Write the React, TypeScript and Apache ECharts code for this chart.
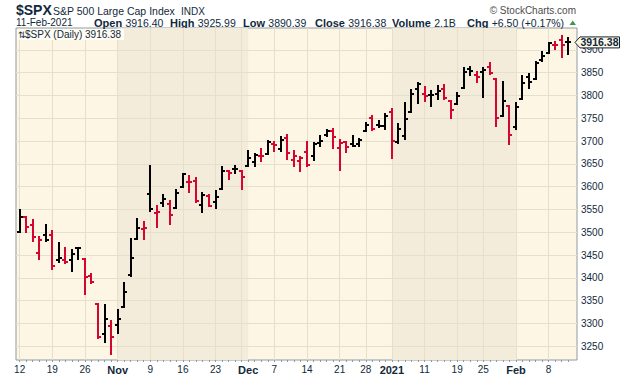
import React, { useEffect, useRef } from "react";
import * as echarts from "echarts";

// ---------- data ----------
const dates = [
  "2020-10-12","2020-10-13","2020-10-14","2020-10-15","2020-10-16","2020-10-19","2020-10-20","2020-10-21","2020-10-22","2020-10-23","2020-10-26","2020-10-27","2020-10-28","2020-10-29","2020-10-30",
  "2020-11-02","2020-11-03","2020-11-04","2020-11-05","2020-11-06","2020-11-09","2020-11-10","2020-11-11","2020-11-12","2020-11-13","2020-11-16","2020-11-17","2020-11-18","2020-11-19","2020-11-20","2020-11-23","2020-11-24","2020-11-25","2020-11-27","2020-11-30",
  "2020-12-01","2020-12-02","2020-12-03","2020-12-04","2020-12-07","2020-12-08","2020-12-09","2020-12-10","2020-12-11","2020-12-14","2020-12-15","2020-12-16","2020-12-17","2020-12-18","2020-12-21","2020-12-22","2020-12-23","2020-12-24","2020-12-28","2020-12-29","2020-12-30","2020-12-31",
  "2021-01-04","2021-01-05","2021-01-06","2021-01-07","2021-01-08","2021-01-11","2021-01-12","2021-01-13","2021-01-14","2021-01-15","2021-01-19","2021-01-20","2021-01-21","2021-01-22","2021-01-25","2021-01-26","2021-01-27","2021-01-28","2021-01-29",
  "2021-02-01","2021-02-02","2021-02-03","2021-02-04","2021-02-05","2021-02-08","2021-02-09","2021-02-10","2021-02-11",
];
const opens = [
  3500.02,3534.01,3515.47,3453.72,3493.5,3493.66,3439.38,3439.91,3438.5,3464.9,3441.42,3403.15,3342.48,3277.17,3293.59,
  3296.2,3336.25,3406.46,3485.74,3508.34,3583.04,3543.26,3563.22,3562.67,3552.57,3600.16,3610.31,3612.09,3559.41,3579.31,3566.82,3594.52,3635.5,3638.55,3634.18,
  3645.87,3653.78,3668.28,3670.94,3694.73,3683.05,3705.98,3659.13,3656.08,3675.27,3666.41,3696.25,3713.65,3722.39,3684.28,3698.08,3693.42,3694.03,3723.03,3750.01,3736.19,3733.27,
  3764.61,3698.02,3712.2,3764.71,3815.05,3803.14,3801.62,3802.23,3814.98,3788.73,3781.88,3816.22,3857.46,3844.24,3851.68,3862.96,3836.83,3755.75,3778.05,
  3731.17,3791.84,3840.27,3836.66,3878.3,3892.59,3910.49,3920.78,3916.4,
];
const highs = [
  3549.85,3534.01,3527.94,3489.08,3515.76,3502.42,3476.93,3464.86,3460.53,3466.46,3441.42,3409.51,3342.48,3341.05,3304.93,
  3330.14,3389.49,3486.25,3529.05,3521.58,3645.99,3557.22,3581.16,3569.02,3593.66,3628.51,3623.11,3619.09,3585.22,3581.23,3589.81,3642.31,3635.5,3644.31,3634.18,
  3678.45,3670.96,3682.73,3699.2,3697.41,3708.45,3712.39,3678.49,3665.91,3697.61,3695.29,3711.27,3725.12,3726.7,3702.9,3698.26,3711.24,3703.82,3740.51,3756.12,3744.63,3760.2,
  3769.99,3737.83,3783.04,3811.55,3826.69,3817.86,3810.78,3820.96,3823.6,3788.73,3804.53,3859.75,3861.45,3852.31,3859.23,3870.9,3836.83,3830.5,3778.05,
  3784.32,3843.09,3847.51,3872.42,3894.56,3915.77,3918.35,3931.5,3925.99,
];
const lows = [
  3499.61,3500.86,3480.55,3440.89,3480.45,3419.93,3435.65,3433.06,3415.34,3440.45,3364.86,3388.71,3268.89,3259.82,3233.94,
  3279.74,3336.25,3405.17,3485.74,3484.34,3547.48,3511.91,3557.0,3518.58,3552.57,3600.16,3588.68,3567.33,3543.84,3556.85,3552.77,3594.52,3617.76,3629.33,3594.39,
  3645.87,3644.84,3657.17,3670.94,3678.88,3678.83,3660.54,3645.18,3633.4,3645.84,3659.62,3688.57,3710.87,3685.84,3636.48,3676.16,3689.28,3689.32,3723.03,3723.31,3730.21,3726.88,
  3662.71,3695.07,3705.34,3764.71,3783.6,3789.02,3776.51,3791.5,3792.86,3749.62,3780.37,3816.22,3845.05,3830.41,3797.16,3847.78,3732.48,3755.75,3694.12,
  3725.62,3791.84,3816.68,3836.66,3874.93,3892.59,3902.64,3884.94,3890.39,
];
const closes = [
  3534.22,3511.93,3488.67,3483.34,3483.81,3426.92,3443.12,3435.56,3453.49,3465.39,3400.97,3390.68,3271.03,3310.11,3269.96,
  3310.24,3369.16,3443.44,3510.45,3509.44,3550.5,3545.53,3572.66,3537.01,3585.15,3626.91,3609.53,3567.79,3581.87,3557.54,3577.59,3635.41,3629.65,3638.35,3621.63,
  3662.45,3669.01,3666.72,3699.12,3691.96,3702.25,3672.82,3668.1,3663.46,3647.49,3694.62,3701.17,3722.48,3709.41,3694.92,3687.26,3690.01,3703.06,3735.36,3727.04,3732.04,3756.07,
  3700.65,3726.86,3748.14,3803.79,3824.68,3799.61,3801.19,3809.84,3795.54,3768.25,3798.91,3851.85,3853.07,3841.47,3855.36,3849.62,3750.77,3787.38,3714.24,
  3773.86,3826.31,3830.17,3871.74,3886.83,3915.59,3911.23,3909.88,3916.38,
];
const priorClose = 3477.13;

const yTickValues = [3250, 3300, 3350, 3400, 3450, 3500, 3550, 3600, 3650, 3700, 3750, 3800, 3850, 3900];
const xLabelIndex = [0, 5, 10, 15, 20, 25, 30, 35, 39, 44, 49, 53, 57, 62, 67, 71, 76, 81];
const xLabelText = ["12", "19", "26", "Nov", "9", "16", "23", "Dec", "7", "14", "21", "28", "2021", "11", "19", "25", "Feb", "8"];
const boldLabels = ["Nov", "Dec", "2021", "Feb"];
const weekStartIndex = [0, 5, 10, 15, 20, 25, 30, 34, 39, 44, 49, 53, 57, 62, 67, 71, 76, 81];
const shadedMonths = [[15, 35], [57, 76]];

const symbol = "$SPX";
const symbolName = "S&P 500 Large Cap Index";
const exchange = "INDX";
const lastDate = "11-Feb-2021";
const statLabels = ["Open", "High", "Low", "Close", "Volume", "Chg"];
const statValues = ["3916.40", "3925.99", "3890.39", "3916.38", "2.1B", "+6.50 (+0.17%)"];

// ---------- style ----------
const TXT = "#12293b";
const UP = "#000000";
const DOWN = "#d4062f";
const BG_LIGHT = "#fdf6e4";
const BG_DARK = "#f4ecdb";
const GRID = "#e6dfcb";
const BORDER = "#8e9aa2";
const FONT = '"Liberation Sans", Arial, sans-serif';

export default function App() {
  const ref = useRef<HTMLDivElement>(null);

  useEffect(() => {
    if (!ref.current) return;
    const chart = echarts.init(ref.current, undefined, { renderer: "svg" });

    const ohlc = dates.map((_, i) => {
      const prev = i === 0 ? priorClose : closes[i - 1];
      return [i, opens[i], closes[i], lows[i], highs[i], closes[i] >= prev ? 1 : 0];
    });

    const option: any = {
      animation: false,
      backgroundColor: "#ffffff",
      grid: {
        left: 16,
        top: 28,
        width: 561,
        height: 332,
        show: true,
        backgroundColor: BG_LIGHT,
        borderColor: BORDER,
        borderWidth: 1,
      },
      xAxis: {
        type: "value",
        min: -0.56,
        max: 85.35,
        axisLine: { show: false },
        splitLine: { show: false },
        axisTick: {
          show: true,
          customValues: dates.map((_, i) => i),
          length: 2,
          lineStyle: { color: BORDER, width: 1 },
        },
        axisLabel: {
          customValues: xLabelIndex,
          margin: 4,
          fontSize: 10,
          fontFamily: FONT,
          color: TXT,
          formatter: (v: number) => {
            const k = xLabelIndex.indexOf(Math.round(v));
            if (k < 0) return "";
            const t = xLabelText[k];
            return boldLabels.indexOf(t) >= 0 ? `{m|${t}}` : t;
          },
          rich: {
            m: { fontWeight: "bold", fontSize: 11, fontFamily: FONT, color: TXT },
          },
        },
      },
      yAxis: {
        type: "value",
        position: "right",
        min: 3220,
        max: 3948,
        axisLine: { show: true, lineStyle: { color: BORDER, width: 1 } },
        splitLine: { show: false },
        axisTick: {
          show: true,
          customValues: yTickValues,
          length: 3,
          lineStyle: { color: BORDER },
        },
        axisLabel: {
          customValues: yTickValues,
          margin: 4,
          fontSize: 10,
          fontFamily: FONT,
          color: TXT,
          formatter: (v: number) => String(Math.round(v)),
        },
      },
      series: [
        {
          type: "line",
          data: [],
          z: 1,
          silent: true,
          markArea: {
            silent: true,
            itemStyle: { color: BG_DARK },
            data: shadedMonths.map(([a, b]) => [{ xAxis: a }, { xAxis: b }]),
          },
        },
        {
          type: "line",
          data: [],
          z: 2,
          silent: true,
          markLine: {
            silent: true,
            symbol: ["none", "none"],
            label: { show: false },
            lineStyle: { color: GRID, width: 1, type: "solid" },
            data: [
              ...weekStartIndex.map((i) => ({ xAxis: i })),
              ...yTickValues.map((v) => ({ yAxis: v })),
            ],
          },
        },
        {
          type: "custom",
          z: 5,
          silent: true,
          data: ohlc,
          encode: { x: 0, y: [1, 2, 3, 4] },
          renderItem: (_p: any, api: any) => {
            const i = api.value(0);
            const o = api.value(1);
            const c = api.value(2);
            const l = api.value(3);
            const h = api.value(4);
            const color = api.value(5) > 0 ? UP : DOWN;
            const px = Math.round(api.coord([i, h])[0]);
            const yH = Math.round(api.coord([i, h])[1]);
            const yL = Math.round(api.coord([i, l])[1]);
            const yO = Math.round(api.coord([i, o])[1]);
            const yC = Math.round(api.coord([i, c])[1]);
            const st = { stroke: color, lineWidth: 2, lineCap: "butt" };
            return {
              type: "group",
              children: [
                { type: "line", shape: { x1: px, y1: yH - 1, x2: px, y2: yL + 1 }, style: st },
                { type: "line", shape: { x1: px - 3, y1: yO, x2: px, y2: yO }, style: st },
                { type: "line", shape: { x1: px, y1: yC, x2: px + 3, y2: yC }, style: st },
              ],
            };
          },
        },
      ],
    };

    chart.setOption(option);

    const lastClose = closes[closes.length - 1];
    const ty = chart.convertToPixel({ yAxisIndex: 0 }, lastClose) as number;
    const tx = chart.convertToPixel({ xAxisIndex: 0 }, 85.35) as number;

    const statX = [94, 170, 243, 315, 392, 467];
    const statEls = statLabels.map((lab, k) => ({
      type: "text",
      x: statX[k],
      y: 22.5,
      style: {
        text: `{b|${lab}} {r|${statValues[k]}}`,
        verticalAlign: "middle",
        rich: {
          b: { font: `bold 11px ${FONT}`, fill: TXT },
          r: { font: `10.5px ${FONT}`, fill: TXT },
        },
      },
    }));

    chart.setOption({
      graphic: {
        elements: [
          { type: "text", x: 16, y: 9.5, style: { text: symbol, font: `bold 14px ${FONT}`, fill: TXT, verticalAlign: "middle" } },
          { type: "text", x: 53, y: 10.5, style: { text: symbolName, font: `10.5px ${FONT}`, fill: TXT, verticalAlign: "middle" } },
          { type: "text", x: 181, y: 11, style: { text: exchange, font: `10px ${FONT}`, fill: TXT, verticalAlign: "middle" } },
          { type: "text", x: 576, y: 10.5, style: { text: "\u00a9 StockCharts.com", font: `10px ${FONT}`, fill: "#4d4d4d", align: "right", verticalAlign: "middle" } },
          { type: "text", x: 16, y: 22.5, style: { text: lastDate, font: `10px ${FONT}`, fill: TXT, verticalAlign: "middle" } },
          ...statEls,
          { type: "polygon", shape: { points: [[569.5, 25], [576, 25], [572.75, 20.5]] }, style: { fill: "#3a9a48" } },
          { type: "rect", z: 50, shape: { x: 17, y: 29, width: 107, height: 11 }, style: { fill: "#fffcf3" } },
          { type: "text", z: 51, x: 18, y: 34.5, style: { text: "\u21c5", font: `9px "DejaVu Sans"`, fill: TXT, verticalAlign: "middle" } },
          { type: "text", z: 51, x: 25, y: 34.5, style: { text: `${symbol} (Daily) ${lastClose.toFixed(2)}`, font: `10px ${FONT}`, fill: TXT, verticalAlign: "middle" } },
          {
            type: "polygon",
            z: 60,
            shape: { points: [[tx - 2, ty], [tx + 3, ty - 5.5], [619.5, ty - 5.5], [619.5, ty + 5.5], [tx + 3, ty + 5.5]] },
            style: { fill: "#fdf8ea", stroke: "#15222c", lineWidth: 1 },
          },
          { type: "text", z: 61, x: tx + 22.5, y: ty, style: { text: lastClose.toFixed(2), font: `bold 10.5px ${FONT}`, fill: TXT, align: "center", verticalAlign: "middle" } },
        ],
      },
    });

    return () => chart.dispose();
  }, []);

  return (
    <div
      ref={ref}
      style={{ position: "fixed", left: 0, top: 0, width: 620, height: 376, background: "#fff" }}
    />
  );
}
